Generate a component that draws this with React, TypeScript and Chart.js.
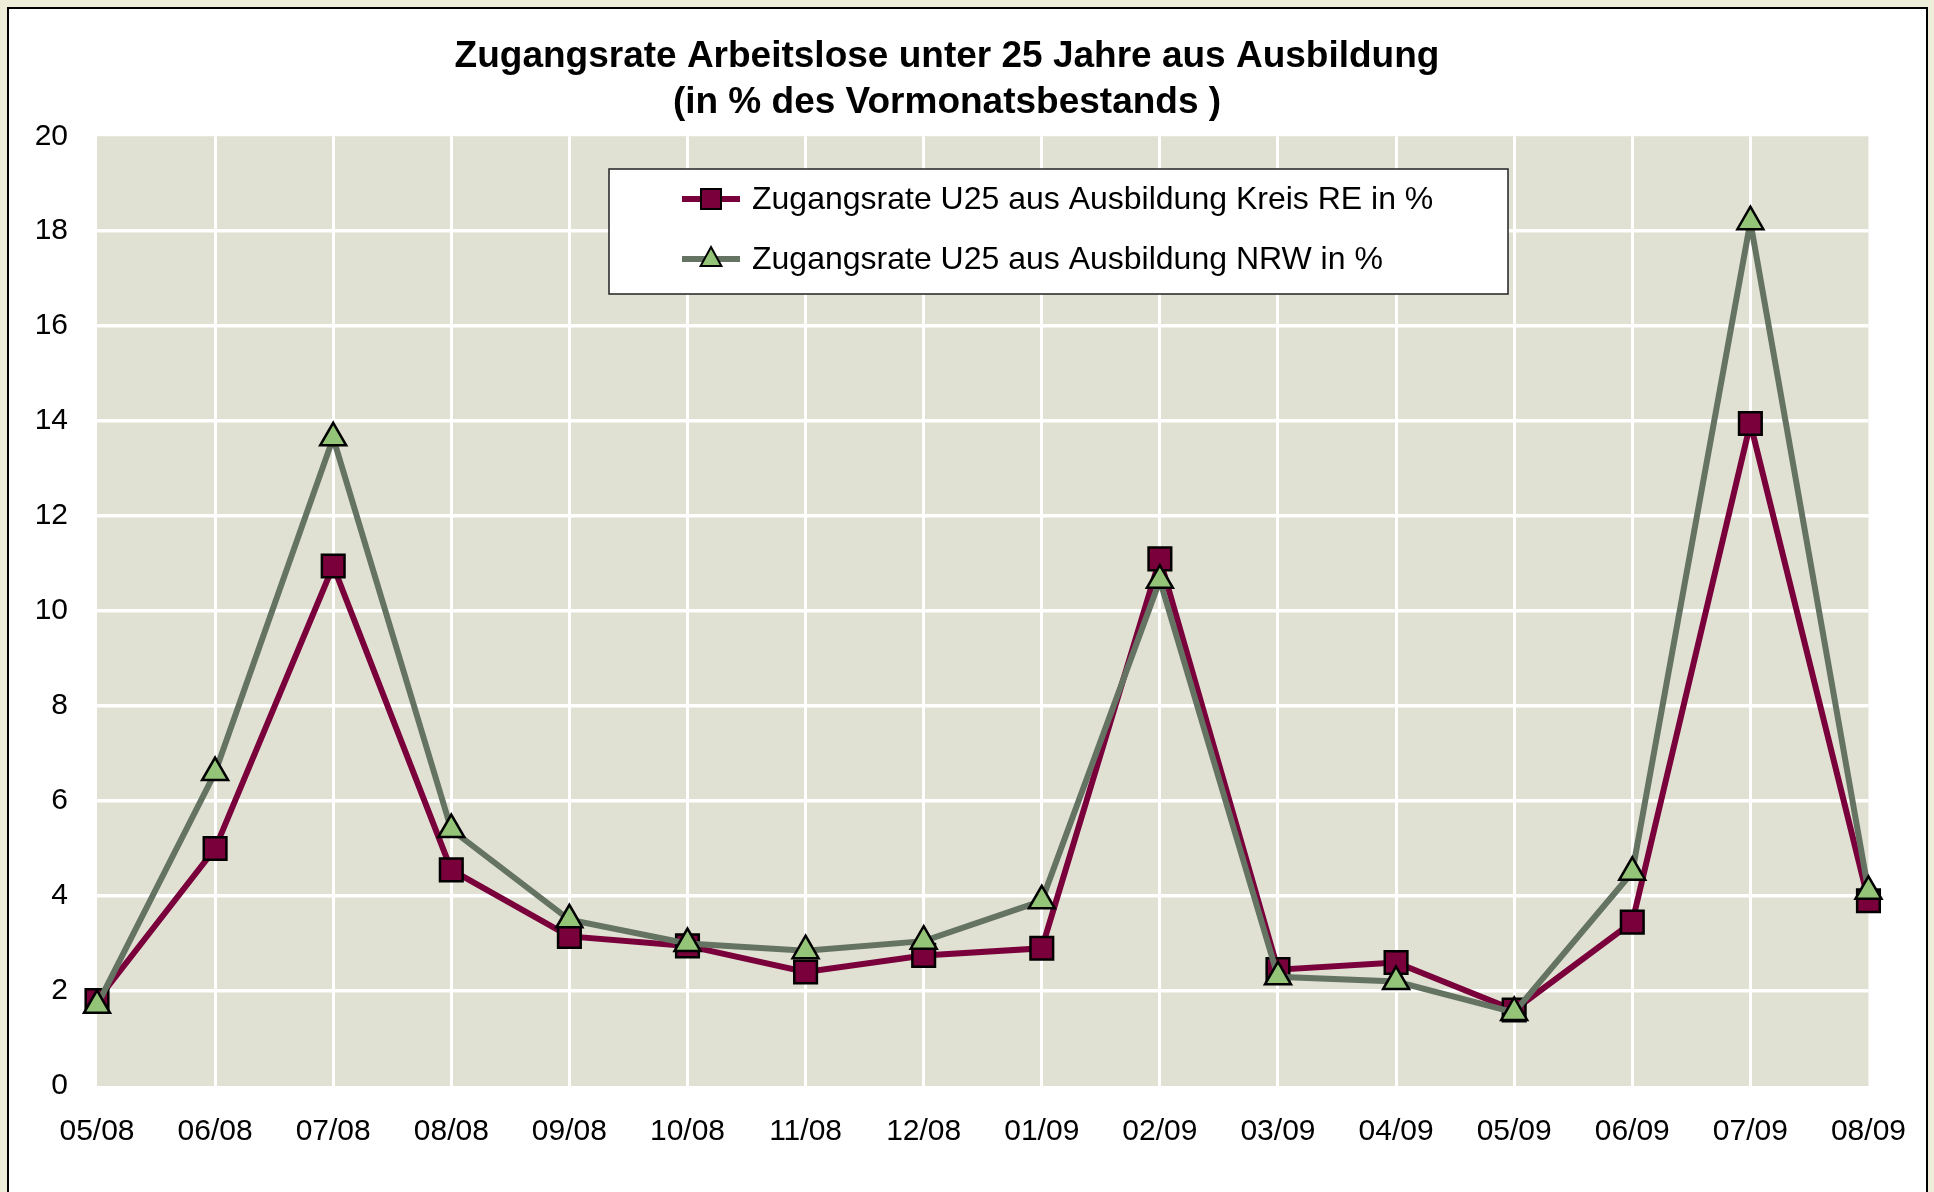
import React, { useEffect, useRef } from 'react';
import { Chart, registerables } from 'chart.js';

Chart.register(...registerables);

const categories = ['05/08', '06/08', '07/08', '08/08', '09/08', '10/08', '11/08', '12/08', '01/09', '02/09', '03/09', '04/09', '05/09', '06/09', '07/09', '08/09'];
const kreisRE = [1.8, 5.0, 10.95, 4.55, 3.15, 2.95, 2.4, 2.75, 2.9, 11.1, 2.45, 2.6, 1.6, 3.45, 13.95, 3.9];
const nrw = [1.7, 6.6, 13.65, 5.4, 3.5, 3.0, 2.85, 3.05, 3.9, 10.65, 2.3, 2.2, 1.55, 4.5, 18.2, 4.1];
const seriesLabels = ['Zugangsrate U25 aus Ausbildung Kreis RE in %', 'Zugangsrate U25 aus Ausbildung NRW in %'];
const titleLines = ['Zugangsrate Arbeitslose unter 25 Jahre aus Ausbildung', '(in % des Vormonatsbestands )'];
const yMin = 0;
const yMax = 20;
const yStep = 2;

const FONT = "'Liberation Sans', Arial, Helvetica, sans-serif";
const RE_COLOR = '#7A003C';
const NRW_LINE = '#657363';
const NRW_FILL = '#93C478';
const PLOT_BG = '#E0E1D3';

const plotBgPlugin = {
  id: 'plotBg',
  beforeDraw(chart: any) {
    const { ctx, chartArea } = chart;
    ctx.save();
    ctx.fillStyle = PLOT_BG;
    ctx.fillRect(chartArea.left, chartArea.top, chartArea.right - chartArea.left, chartArea.bottom - chartArea.top);
    ctx.restore();
  },
};

const boxLegendPlugin = {
  id: 'boxLegend',
  afterDraw(chart: any, _args: any, opts: any) {
    const { ctx } = chart;
    const { left, top, width, height, rowY, lineX0, lineX1, textX } = opts;
    ctx.save();
    ctx.fillStyle = '#ffffff';
    ctx.fillRect(left, top, width, height);
    ctx.strokeStyle = '#222';
    ctx.lineWidth = 1.5;
    ctx.strokeRect(left, top, width, height);
    chart.data.datasets
      .slice()
      .sort((a: any, b: any) => a.legendIndex - b.legendIndex)
      .forEach((ds: any, i: number) => {
        const y = rowY[i];
        ctx.strokeStyle = ds.borderColor;
        ctx.lineWidth = ds.borderWidth;
        ctx.beginPath();
        ctx.moveTo(lineX0, y);
        ctx.lineTo(lineX1, y);
        ctx.stroke();
        const cx = (lineX0 + lineX1) / 2;
        ctx.fillStyle = ds.pointBackgroundColor;
        ctx.strokeStyle = ds.pointBorderColor;
        ctx.lineWidth = 2;
        ctx.beginPath();
        if (ds.pointStyle === 'rect') {
          const s = 10;
          ctx.rect(cx - s, y - s, 2 * s, 2 * s);
        } else {
          const r = 12;
          ctx.moveTo(cx, y - r);
          ctx.lineTo(cx + r * 0.866, y + r * 0.5 + 1);
          ctx.lineTo(cx - r * 0.866, y + r * 0.5 + 1);
          ctx.closePath();
        }
        ctx.fill();
        ctx.stroke();
        ctx.fillStyle = '#000';
        ctx.font = `32px ${FONT}`;
        ctx.textBaseline = 'middle';
        ctx.textAlign = 'left';
        ctx.fillText(ds.label, textX, y + 1);
      });
    ctx.restore();
  },
};

export default function App() {
  const ref = useRef<HTMLCanvasElement | null>(null);

  useEffect(() => {
    document.documentElement.style.overflow = 'hidden';
    document.body.style.overflow = 'hidden';
    const canvas = ref.current;
    if (!canvas) return;
    const last = categories.length - 1;
    const chart = new Chart(canvas, {
      type: 'line',
      data: {
        labels: categories,
        datasets: [
          {
            label: seriesLabels[0],
            data: kreisRE,
            borderColor: RE_COLOR,
            backgroundColor: RE_COLOR,
            borderWidth: 6,
            pointStyle: 'rect',
            pointRadius: 16,
            pointHoverRadius: 16,
            pointBackgroundColor: RE_COLOR,
            pointBorderColor: '#000',
            pointBorderWidth: 2.5,
            tension: 0,
            clip: false,
            order: 1,
            legendIndex: 0,
          } as any,
          {
            label: seriesLabels[1],
            data: nrw,
            borderColor: NRW_LINE,
            backgroundColor: NRW_FILL,
            borderWidth: 6,
            pointStyle: 'triangle',
            pointRadius: 15,
            pointHoverRadius: 15,
            pointBackgroundColor: NRW_FILL,
            pointBorderColor: '#000',
            pointBorderWidth: 2.5,
            tension: 0,
            clip: false,
            order: 0,
            legendIndex: 1,
          } as any,
        ],
      },
      options: {
        responsive: false,
        animation: false,
        events: [],
        layout: { padding: { left: 25, right: 65, top: 33, bottom: 46 } },
        plugins: {
          legend: { display: false },
          tooltip: { enabled: false },
          title: {
            display: true,
            text: titleLines,
            color: '#000',
            font: { family: FONT, size: 37, weight: 'bold', lineHeight: 1.26 },
            padding: { top: 0, bottom: 10 },
          },
          boxLegend: {
            left: 609,
            top: 169,
            width: 899,
            height: 125,
            rowY: [199, 259],
            lineX0: 682,
            lineX1: 740,
            textX: 752,
          },
        } as any,
        scales: {
          x: {
            type: 'category',
            offset: false,
            grid: {
              drawTicks: false,
              color: (c: any) => (c.index === 0 || c.index === last ? 'rgba(0,0,0,0)' : '#ffffff'),
              lineWidth: 3,
            },
            border: { display: false },
            ticks: {
              color: '#000',
              font: { family: FONT, size: 30 },
              padding: 28,
              autoSkip: false,
              maxRotation: 0,
              minRotation: 0,
            },
            afterFit: (s: any) => {
              s.height = 60;
            },
          },
          y: {
            min: yMin,
            max: yMax,
            grid: {
              drawTicks: false,
              color: (c: any) => (c.tick && (c.tick.value === yMin || c.tick.value === yMax) ? 'rgba(0,0,0,0)' : '#ffffff'),
              lineWidth: 3.5,
            },
            border: { display: false },
            ticks: {
              stepSize: yStep,
              color: '#000',
              font: { family: FONT, size: 30 },
              padding: 29,
            },
            afterFit: (s: any) => {
              s.width = 72;
            },
          },
        },
      },
      plugins: [plotBgPlugin, boxLegendPlugin],
    });
    return () => chart.destroy();
  }, []);

  return (
    <div style={{ position: 'fixed', left: 0, top: 0, width: 1934, height: 1192, background: '#EDEDDA', overflow: 'hidden' }}>
      <div
        style={{
          position: 'absolute',
          left: 7,
          top: 7,
          width: 1921,
          height: 1300,
          border: '2px solid #000',
          background: '#ffffff',
          boxSizing: 'border-box',
        }}
      />
      <canvas ref={ref} width={1934} height={1192} style={{ position: 'absolute', left: 0, top: 0, display: 'block' }} />
    </div>
  );
}
